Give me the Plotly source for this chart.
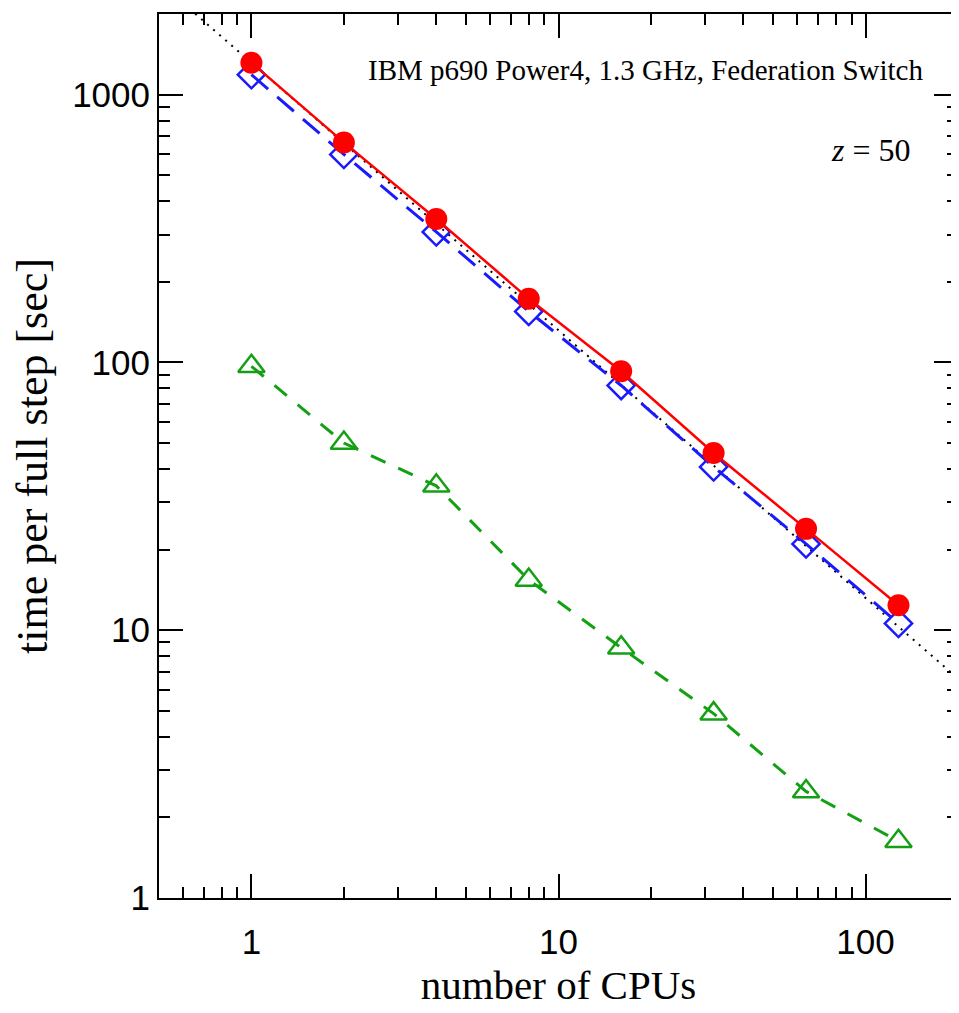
import plotly.graph_objects as go

# ---- data ----
cpus = [1, 2, 4, 8, 16, 32, 64, 128]
time_total = [1315, 663, 343, 173, 92.7, 45.9, 23.9, 12.4]      # red filled circles, solid
time_part_a = [1187, 598, 307, 155, 82, 40.7, 21, 10.6]          # blue open diamonds, long dash
time_part_b = [96.7, 50, 34.6, 15.4, 8.6, 4.88, 2.5, 1.63]       # green open triangles, dash
ideal_x = [0.5, 200]                                             # dotted ideal-scaling line
ideal_y = [2630, 6.6]

x_tickvals = [1, 10, 100]
x_ticktext = ["1", "10", "100"]
y_tickvals = [1, 10, 100, 1000]
y_ticktext = ["1", "10", "100", "1000"]

RED = "#ff0000"
BLUE = "#1a1aff"
GREEN = "#14a014"

fig = go.Figure()

fig.add_trace(go.Scatter(
    x=ideal_x, y=ideal_y, mode="lines",
    line=dict(color="black", width=2, dash="2px,6px"),
    showlegend=False, hoverinfo="skip"))

fig.add_trace(go.Scatter(
    x=cpus, y=time_part_b, mode="lines+markers",
    line=dict(color=GREEN, width=3, dash="16px,14px"),
    marker=dict(symbol="triangle-up-open", size=23, color=GREEN, line=dict(width=2.5, color=GREEN)),
    showlegend=False))

fig.add_trace(go.Scatter(
    x=cpus, y=time_part_a, mode="lines+markers",
    line=dict(color=BLUE, width=3, dash="22px,12px"),
    marker=dict(symbol="diamond-open", size=21, color=BLUE, line=dict(width=2.5, color=BLUE)),
    showlegend=False))

fig.add_trace(go.Scatter(
    x=cpus, y=time_total, mode="lines+markers",
    line=dict(color=RED, width=2.5),
    marker=dict(symbol="circle", size=22, color=RED),
    showlegend=False))

axis_common = dict(
    type="log", showgrid=False, zeroline=False,
    showline=True, linecolor="black", linewidth=2, mirror="ticks",
    ticks="inside", ticklen=24, tickwidth=2, tickcolor="black",
    minor=dict(ticks="inside", ticklen=11, tickwidth=2, tickcolor="black",
               dtick="D1", showgrid=False),
    tickfont=dict(family="Liberation Sans, Arial, sans-serif", size=35, color="black"),
)

fig.update_xaxes(
    **axis_common,
    range=[-0.301, 2.301],
    tickvals=x_tickvals, ticktext=x_ticktext,
    ticklabelstandoff=12,
    title=dict(text="number of CPUs", standoff=10,
               font=dict(family="Liberation Serif, Times New Roman, serif", size=41, color="black")),
)
fig.update_yaxes(
    **axis_common,
    range=[0, 3.301],
    tickvals=y_tickvals, ticktext=y_ticktext,
    title=dict(text="time per full step [sec]", standoff=22,
               font=dict(family="Liberation Serif, Times New Roman, serif", size=44, color="black")),
)

fig.add_annotation(
    xref="paper", yref="paper", x=0.959, y=0.937, xanchor="right", yanchor="middle",
    text="IBM p690 Power4, 1.3 GHz, Federation Switch", showarrow=False,
    font=dict(family="Liberation Serif, Times New Roman, serif", size=29, color="black"))
fig.add_annotation(
    xref="paper", yref="paper", x=0.944, y=0.8465, xanchor="right", yanchor="middle",
    text="<i>z</i> = 50", showarrow=False,
    font=dict(family="Liberation Serif, Times New Roman, serif", size=32, color="black"))

fig.update_layout(
    width=959, height=1013,
    margin=dict(l=151, r=9, t=4, b=123),
    paper_bgcolor="white", plot_bgcolor="white",
    showlegend=False,
)

fig.write_html("out.html")
